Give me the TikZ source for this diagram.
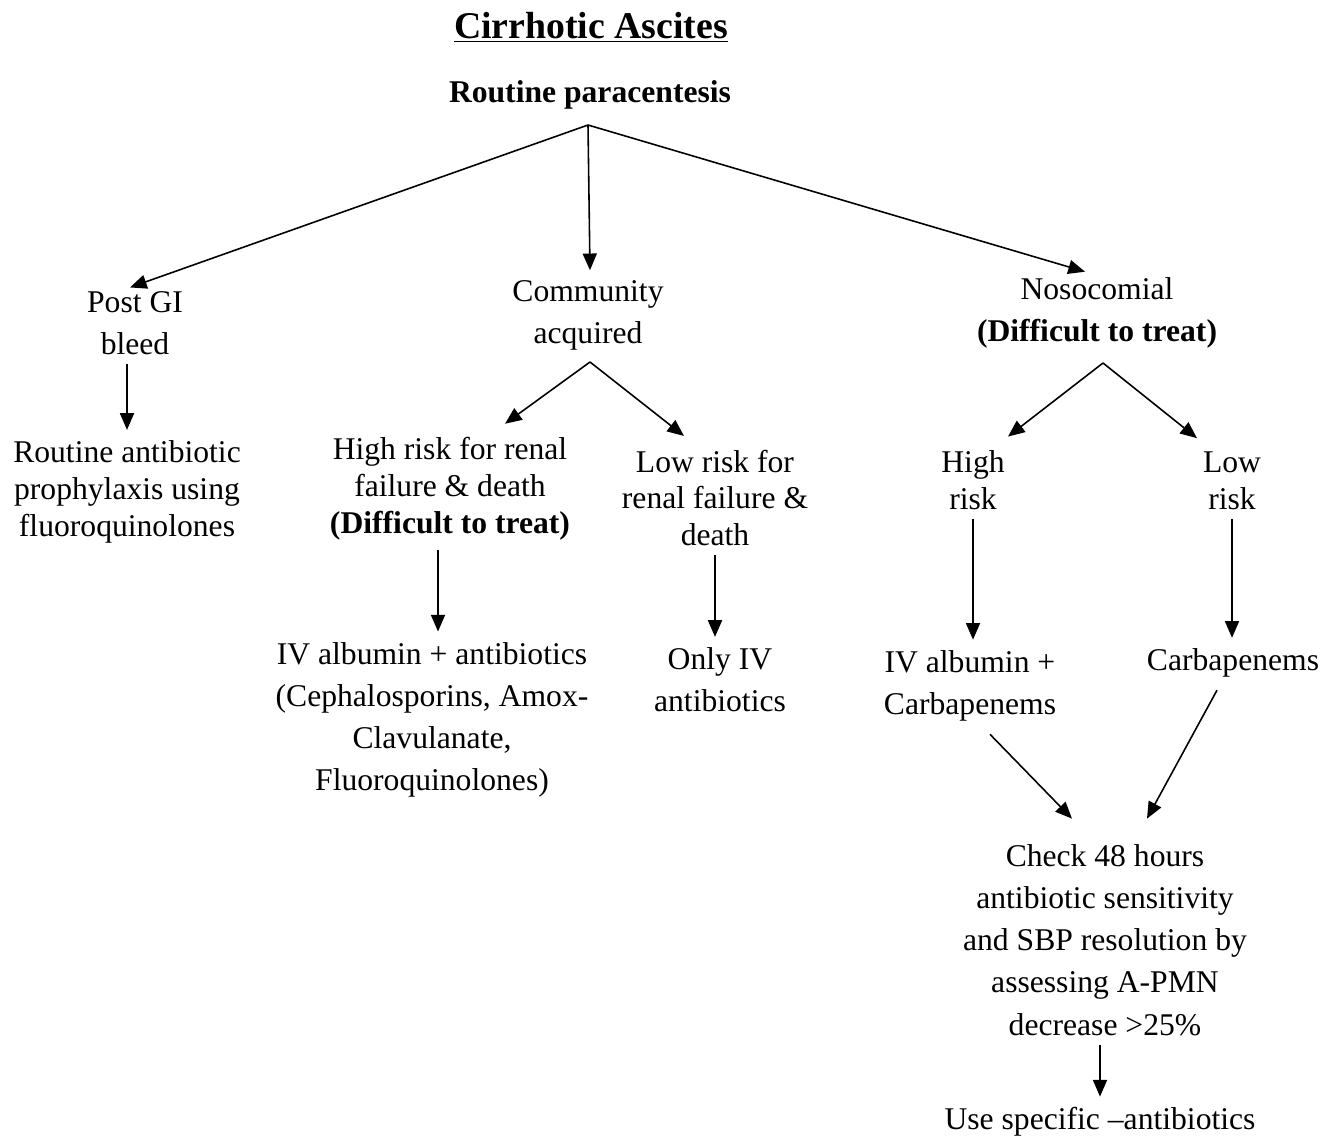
\documentclass[tikz,border=0pt]{standalone}
\usepackage{fontspec}
\setmainfont{Liberation Serif}
\usetikzlibrary{arrows.meta,positioning}

\begin{document}
\begin{tikzpicture}[x=0.02cm,y=-0.02cm,
  txt/.style={align=center, inner sep=2pt, font=\fontsize{18}{24}\selectfont},
  tight/.style={txt, font=\fontsize{18}{21}\selectfont},
  arr/.style={line width=0.9pt, -{Triangle[length=9.5pt,width=8pt]}},
  vert/.style={arr, shorten <=3pt, shorten >=4pt}]
  \useasboundingbox (0,0) rectangle (1333,1137);

  % Heading
  \node[txt, font=\fontsize{21.5}{26}\selectfont\bfseries] (title) at (591,27) {\underline{Cirrhotic Ascites}};
  \node[txt, font=\fontsize{18}{24}\selectfont\bfseries] (para) at (590,95) {Routine paracentesis};
  \coordinate (f0) at (588,125);

  % Three kinds
  \node[txt] (postgi) at (135,323) {Post GI\\bleed};
  \node[txt] (comm) at (588,315) {Community\\acquired};
  \node[txt] (noso) at (1097,313) {Nosocomial\\\textbf{(Difficult to treat)}};
  \draw[arr] (f0) -- ([shift={(-5,0)}]postgi.north);
  \draw[arr] (f0) -- ([shift={(2,-6)}]comm.north);
  \draw[arr] (f0) -- ([shift={(-12,-2)}]noso.north);

  % Post GI bleed
  \node[tight] (routine) at (127,492) {Routine antibiotic\\prophylaxis using\\fluoroquinolones};
  \draw[vert] (routine.north |- postgi.south) -- (routine.north);

  % Community acquired
  \coordinate (f1) at (590,362);
  \node[tight] (highr) at (450,489) {High risk for renal\\failure \& death\\\textbf{(Difficult to treat)}};
  \node[tight] (lowr) at (715,498) {Low risk for\\renal failure \&\\death};
  \draw[arr] (f1) -- ([shift={(55,-10)}]highr.north);
  \draw[arr] (f1) -- ([shift={(-31,-10)}]lowr.north);
  \node[txt] (ivab) at (432,720) {IV albumin + antibiotics\\(Cephalosporins, Amox-\\Clavulanate,\\Fluoroquinolones)};
  \node[txt] (onlyiv) at (720,680) {Only IV\\antibiotics};
  \coordinate (hs) at ([shift={(-12,0)}]highr.south);
  \draw[vert] (hs) -- (hs |- ivab.north);
  \draw[vert] (lowr.south) -- (lowr.south |- onlyiv.north);

  % Nosocomial
  \coordinate (f2) at (1103,363);
  \node[tight] (nhigh) at (973,480) {High\\risk};
  \node[tight] (nlow) at (1232,481) {Low\\risk};
  \draw[arr] (f2) -- ([shift={(35,-10)}]nhigh.north);
  \draw[arr] (f2) -- ([shift={(-35,-10)}]nlow.north);
  \node[txt] (ivcarb) at (970,686) {IV albumin +\\Carbapenems};
  \node[txt] (carb) at (1233,663) {Carbapenems};
  \draw[vert] (nhigh.south) -- (nhigh.south |- ivcarb.north);
  \draw[vert] (nlow.south) -- (nlow.south |- carb.north);

  % Follow-up
  \node[txt] (check) at (1105,940) {Check 48 hours\\antibiotic sensitivity\\and SBP resolution by\\assessing A-PMN\\decrease >25\%};
  \node[txt] (use) at (1100,1122) {Use specific --antibiotics};
  \draw[arr] ([shift={(20,9)}]ivcarb.south) -- ([shift={(-33,-22)}]check.north);
  \draw[arr] ([shift={(-16,9)}]carb.south) -- ([shift={(42,-22)}]check.north);
  \draw[vert] (check.south -| use.north) -- (use.north);
\end{tikzpicture}
\end{document}
